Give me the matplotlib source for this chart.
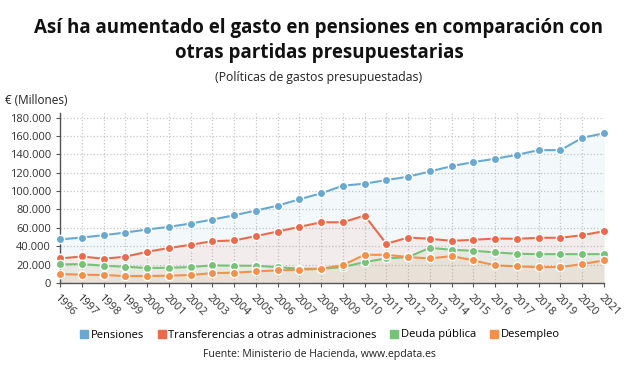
import matplotlib.pyplot as plt
import matplotlib.ticker as mticker
from matplotlib.lines import Line2D

plt.rcParams['font.family'] = ['Open Sans', 'DejaVu Sans']

years = list(range(1996, 2022))

pensiones = [47400, 49500, 52000, 54900, 58200, 61100, 64700, 69000, 73700, 78800,
             84200, 91100, 97600, 105900, 108100, 112000, 115700, 121400, 127200,
             131600, 135200, 139500, 144600, 144600, 158000, 163000]
transferencias = [26700, 28900, 26400, 28600, 34000, 38000, 41600, 45500, 46300, 51000,
                  56000, 61100, 66100, 66100, 73400, 42700, 49500, 48100, 45900,
                  47000, 48400, 48100, 49200, 49200, 52000, 56400]
deuda = [20200, 20600, 18800, 17700, 16300, 16600, 17300, 19200, 18800, 18800,
         17300, 15500, 15500, 17300, 22800, 26700, 28200, 38300, 36100,
         35100, 33300, 31800, 31400, 31400, 31400, 31400]
desempleo = [9760, 9000, 8700, 7600, 7600, 7950, 8700, 10800, 11200, 12650,
             13700, 14500, 15500, 19500, 30700, 30700, 28200, 26700, 29300,
             24600, 19200, 18100, 17300, 17300, 20600, 24600]

series = [
    ("Pensiones", pensiones, "#6aa9cf"),
    ("Transferencias a otras administraciones", transferencias, "#ec6a4c"),
    ("Deuda pública", deuda, "#76c276"),
    ("Desempleo", desempleo, "#f4904a"),
]

fig = plt.figure(figsize=(6.38, 3.75), dpi=100)
ax = fig.add_axes([60 / 638, 1 - 283 / 375, 544 / 638, 170 / 375])

for name, vals, color in series:
    ax.fill_between(years, vals, 0, color=color, alpha=0.08, linewidth=0, zorder=1)
for name, vals, color in series:
    ax.plot(years, vals, color=color, linewidth=1.5, marker='o', markersize=6,
            markerfacecolor=color, markeredgecolor='white', markeredgewidth=1.0,
            zorder=3, clip_on=False)

ax.set_xlim(1996, 2021)
ax.set_ylim(0, 185000)
ax.set_yticks(range(0, 180001, 20000))
ax.yaxis.set_major_formatter(mticker.FuncFormatter(lambda v, p: f"{int(v):,}".replace(",", ".")))
ax.set_xticks(years)
ax.set_xticklabels([str(y) for y in years], rotation=-45, ha='left', va='top',
                   rotation_mode='anchor')

ax.grid(True, color='#c8c8c8', linestyle=':', linewidth=0.9)
ax.set_axisbelow(True)
for s in ['top', 'right']:
    ax.spines[s].set_visible(False)
for s in ['left', 'bottom']:
    ax.spines[s].set_color('#555555')
    ax.spines[s].set_linewidth(1.0)
ax.tick_params(axis='both', colors='#555555', labelcolor='#333333', labelsize=8, length=3)
ax.tick_params(axis='x', pad=4)

fig.text(0.5, 1 - 28 / 375, "Así ha aumentado el gasto en pensiones en comparación con",
         ha='center', va='center', fontsize=13.5, fontweight='bold', color='#111111')
fig.text(0.5, 1 - 53 / 375, "otras partidas presupuestarias",
         ha='center', va='center', fontsize=13.5, fontweight='bold', color='#111111')
fig.text(0.5, 1 - 77 / 375, "(Políticas de gastos presupuestadas)",
         ha='center', va='center', fontsize=8.8, color='#222222')
fig.text(5 / 638, 1 - 100 / 375, "€ (Millones)", ha='left', va='center',
         fontsize=8.5, color='#222222')

handles = [Line2D([0], [0], marker='s', linestyle='none', markersize=6,
                  markerfacecolor=c, markeredgecolor=c) for _, _, c in series]
fig.legend(handles, [n for n, _, _ in series], loc='center', ncol=4,
           bbox_to_anchor=(0.5, 1 - 335 / 375), frameon=False, fontsize=8,
           handletextpad=0.1, columnspacing=1.1, handlelength=1.0)

fig.text(0.5, 1 - 355 / 375, "Fuente: Ministerio de Hacienda, www.epdata.es",
         ha='center', va='center', fontsize=7.6, color='#222222')

fig.savefig("out.png", dpi=100)
